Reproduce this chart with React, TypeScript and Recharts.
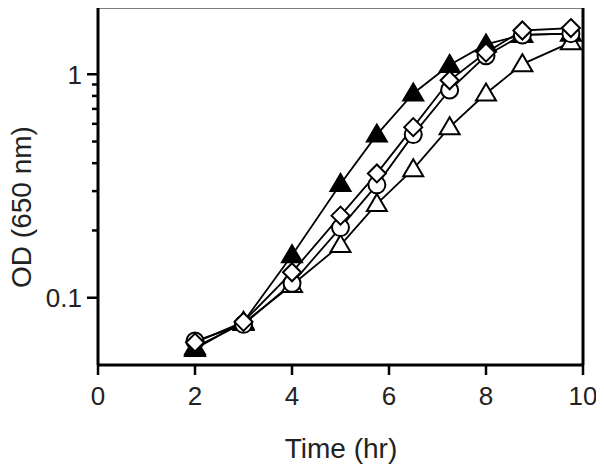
import { Label, Line, LineChart, ReferenceLine, XAxis, YAxis } from "recharts";

const time = [2, 3, 4, 5, 5.75, 6.5, 7.25, 8, 8.75, 9.75];
const filledTri = [0.059, 0.078, 0.155, 0.323, 0.537, 0.82, 1.1, 1.36, 1.5, 1.52];
const openTri = [0.06, 0.077, 0.114, 0.172, 0.263, 0.376, 0.58, 0.82, 1.11, 1.39];
const circle = [0.064, 0.076, 0.116, 0.206, 0.32, 0.537, 0.85, 1.21, 1.5, 1.52];
const diamond = [0.063, 0.078, 0.13, 0.233, 0.36, 0.58, 0.94, 1.25, 1.57, 1.61];

const xTicks = [0, 2, 4, 6, 8, 10];
const yTicks = [0.1, 0.2, 0.3, 0.4, 0.5, 0.6, 0.7, 0.8, 0.9, 1];
const yMajor = [0.1, 1];

const data = time.map((t, i) => ({
  t,
  filledTri: filledTri[i],
  openTri: openTri[i],
  circle: circle[i],
  diamond: diamond[i],
}));

const FONT = "'Liberation Sans', Arial, sans-serif";
const INK = "#222";

function triangleDot(fill: string) {
  return (props: any) => {
    const { cx, cy, index } = props;
    const s = 10;
    const pts = `${cx},${cy - s} ${cx - s},${cy + 7} ${cx + s},${cy + 7}`;
    return <polygon key={index} points={pts} fill={fill} stroke="#000" strokeWidth={2} />;
  };
}

function circleDot(props: any) {
  const { cx, cy, index } = props;
  return <circle key={index} cx={cx} cy={cy} r={8.5} fill="#fff" stroke="#000" strokeWidth={2} />;
}

function diamondDot(props: any) {
  const { cx, cy, index } = props;
  const s = 9;
  const pts = `${cx},${cy - s} ${cx + s},${cy} ${cx},${cy + s} ${cx - s},${cy}`;
  return <polygon key={index} points={pts} fill="#fff" stroke="#000" strokeWidth={2} />;
}

function YTick(props: any) {
  const { x, y, payload } = props;
  const v = payload.value;
  const major = yMajor.includes(v);
  return (
    <g>
      <line x1={x - (major ? 11 : 6)} x2={x} y1={y} y2={y} stroke="#000" strokeWidth={2.5} />
      {major && (
        <text x={x - 16} y={y} dy="0.36em" textAnchor="end" fontSize={26} fontFamily={FONT} fill={INK}>
          {String(v)}
        </text>
      )}
    </g>
  );
}

export default function App() {
  return (
    <div style={{ margin: "-8px 0 0 -8px", width: 604, height: 469, background: "#fff" }}>
      <LineChart width={604} height={469} data={data} margin={{ top: 7, right: 21, left: 0, bottom: 0 }}>
        <XAxis
          dataKey="t"
          type="number"
          domain={[0, 10]}
          ticks={xTicks}
          height={104}
          tickSize={10}
          tickMargin={12}
          axisLine={{ stroke: "#000", strokeWidth: 3 }}
          tickLine={{ stroke: "#000", strokeWidth: 2.5 }}
          tick={{ fontSize: 26, fontFamily: FONT, fill: INK }}
        >
          <Label
            content={() => (
              <text x={341} y={448} textAnchor="middle" dominantBaseline="central" fontSize={28} fontFamily={FONT} fill={INK}>
                Time (hr)
              </text>
            )}
          />
        </XAxis>
        <YAxis
          type="number"
          scale="log"
          domain={[0.05, 2]}
          allowDataOverflow
          ticks={yTicks}
          interval={0}
          width={98}
          tickSize={0}
          tickMargin={0}
          tickLine={false}
          axisLine={{ stroke: "#000", strokeWidth: 3 }}
          tick={<YTick />}
        >
          <Label
            content={() => (
              <text
                x={21}
                y={207}
                textAnchor="middle"
                dominantBaseline="central"
                transform="rotate(-90 21 207)"
                fontSize={28}
                fontFamily={FONT}
                fill={INK}
              >
                OD (650 nm)
              </text>
            )}
          />
        </YAxis>
        <ReferenceLine y={2} stroke="#000" strokeWidth={3} ifOverflow="visible" />
        <ReferenceLine x={10} stroke="#000" strokeWidth={3} ifOverflow="visible" />
        <Line dataKey="openTri" stroke="#000" strokeWidth={1.8} dot={triangleDot("#fff")} isAnimationActive={false} />
        <Line dataKey="filledTri" stroke="#000" strokeWidth={1.8} dot={triangleDot("#000")} isAnimationActive={false} />
        <Line dataKey="circle" stroke="#000" strokeWidth={1.8} dot={circleDot} isAnimationActive={false} />
        <Line dataKey="diamond" stroke="#000" strokeWidth={1.8} dot={diamondDot} isAnimationActive={false} />
      </LineChart>
    </div>
  );
}
